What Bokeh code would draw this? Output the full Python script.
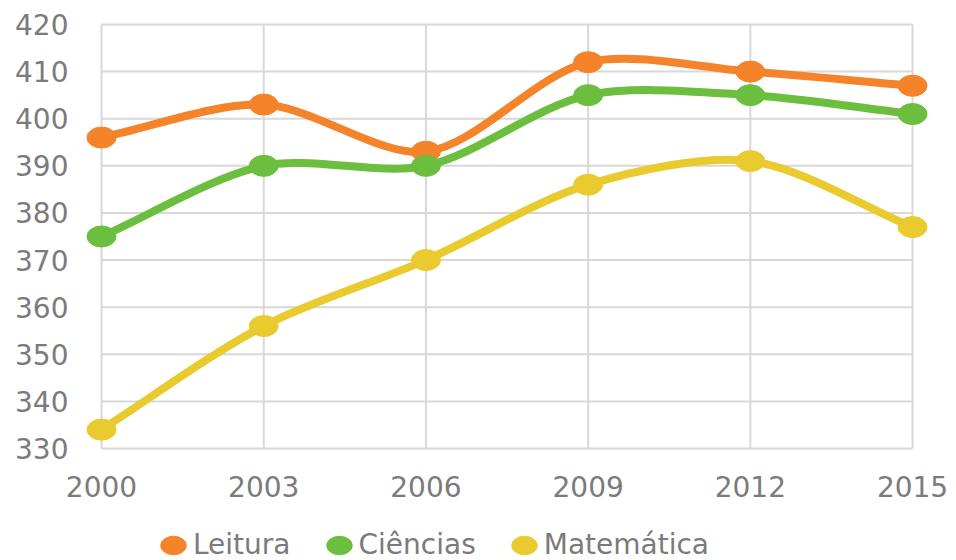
import math
from bokeh.plotting import figure
from bokeh.models import Range1d, Legend, LegendItem
from bokeh.core.properties import value
from bokeh.embed import file_html
from bokeh.resources import INLINE

# ---- data ----
years = [2000, 2003, 2006, 2009, 2012, 2015]
year_labels = ["2000", "2003", "2006", "2009", "2012", "2015"]
leitura = [396, 403, 393, 412, 410, 407]
ciencias = [375, 390, 390, 405, 405, 401]
matematica = [334, 356, 370, 386, 391, 377]
y_ticks = [330, 340, 350, 360, 370, 380, 390, 400, 410, 420]
y_labels = ["330", "340", "350", "360", "370", "380", "390", "400", "410", "420"]
series_names = ["Leitura", "Ciências", "Matemática"]
series_values = [leitura, ciencias, matematica]
colors = ["#F4832A", "#6CBE3E", "#EACB2F"]

FONT = "DejaVu Sans"
TXT = "#7b7b7b"
GRID = "#d8d8d8"

# ---- layout (pixels) ----
W, H = 948, 560
PX_PER_YEAR = 54.07
PX_PER_UNIT = 4.711
LEFT_PX = 101   # where the first year sits
TOP_PX = 24     # where the top tick sits
x_lo = years[0] - LEFT_PX / PX_PER_YEAR
x_hi = x_lo + W / PX_PER_YEAR
y_hi = y_ticks[-1] + TOP_PX / PX_PER_UNIT
y_lo = y_hi - H / PX_PER_UNIT

p = figure(width=W, height=H, output_backend="svg", toolbar_location=None,
           x_range=Range1d(x_lo, x_hi), y_range=Range1d(y_lo, y_hi),
           x_axis_location=None, y_axis_location=None,
           min_border=0)
p.outline_line_color = None
p.grid.visible = False
p.background_fill_color = "white"
p.border_fill_color = "white"

# gridlines (from the tick lists)
p.segment(x0=years, x1=years, y0=[y_ticks[0]] * len(years), y1=[y_ticks[-1]] * len(years),
          line_color=GRID, line_width=2)
p.segment(x0=[years[0]] * len(y_ticks), x1=[years[-1]] * len(y_ticks), y0=y_ticks, y1=y_ticks,
          line_color=GRID, line_width=2)

# tick labels
p.text(x=[years[0]] * len(y_ticks), y=y_ticks, text=y_labels, text_align="right",
       text_baseline="middle", x_offset=-33, text_font=value(FONT),
       text_font_size="28px", text_color=TXT)
p.text(x=years, y=[y_ticks[0]] * len(years), text=year_labels, text_align="center",
       text_baseline="alphabetic", y_offset=38, text_font=value(FONT),
       text_font_size="28px", text_color=TXT)

# smooth curve control points (tension spline)
SX, SY, T = 40.6, 4.71, 0.3


def bezier_parts(xs, ys):
    n = len(xs)
    pts = [(x * SX, y * SY) for x, y in zip(xs, ys)]
    prev_cp, next_cp = [], []
    for i in range(n):
        pv = pts[max(i - 1, 0)]
        cu = pts[i]
        nx = pts[min(i + 1, n - 1)]
        d01 = math.hypot(cu[0] - pv[0], cu[1] - pv[1])
        d12 = math.hypot(nx[0] - cu[0], nx[1] - cu[1])
        s = d01 + d12
        fa = T * (d01 / s if s else 0)
        fb = T * (d12 / s if s else 0)
        dx, dy = nx[0] - pv[0], nx[1] - pv[1]
        prev_cp.append(((cu[0] - fa * dx) / SX, (cu[1] - fa * dy) / SY))
        next_cp.append(((cu[0] + fb * dx) / SX, (cu[1] + fb * dy) / SY))
    return dict(x0=xs[:-1], y0=ys[:-1], x1=xs[1:], y1=ys[1:],
                cx0=[c[0] for c in next_cp[:-1]], cy0=[c[1] for c in next_cp[:-1]],
                cx1=[c[0] for c in prev_cp[1:]], cy1=[c[1] for c in prev_cp[1:]])


items = []
for name, vals, col in zip(series_names, series_values, colors):
    b = bezier_parts(years, vals)
    p.bezier(line_color=col, line_width=8, line_cap="round", **b)
for name, vals, col in zip(series_names, series_values, colors):
    r = p.ellipse(x=years, y=vals, width=29, height=21, width_units="screen",
                  height_units="screen", fill_color=col, line_color=col)
    items.append(LegendItem(label=name, renderers=[r]))

legend = Legend(items=items, orientation="horizontal", location=(157, -1),
                glyph_width=32, glyph_height=32, label_standoff=4, spacing=32,
                padding=0, margin=0, border_line_color=None,
                background_fill_alpha=0,
                label_text_font=FONT, label_text_font_size="28px",
                label_text_color=TXT)
p.add_layout(legend, "center")

open("out.html", "w").write(file_html(p, INLINE))
